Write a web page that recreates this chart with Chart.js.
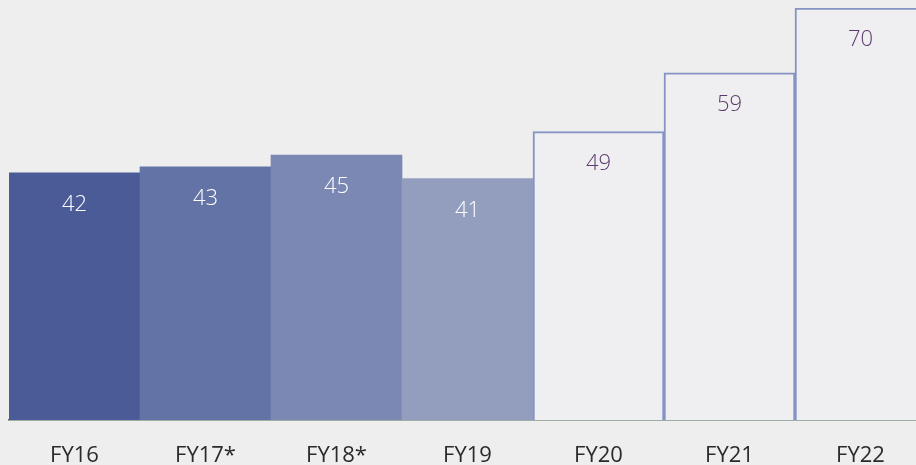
<!DOCTYPE html>
<html>
<head>
<meta charset="utf-8">
<script src="https://cdn.jsdelivr.net/npm/chart.js@4"></script>
<style>
html,body{margin:0;padding:0;background:#eeeeee;overflow:hidden;width:916px;height:465px;}
canvas{display:block;}
</style>
</head>
<body>
<canvas id="c" width="926" height="465"></canvas>
<script>
const categories = ["FY16","FY17*","FY18*","FY19","FY20","FY21","FY22"];
const values = [42,43,45,41,49,59,70];
const fillColors = ["#4b5b97","#6373a5","#7b88b3","#939ebf","#efeff1","#efeff1","#efeff1"];
const borderColors = ["#4b5b97","#6373a5","#7b88b3","#939ebf","#8593c3","#8593c3","#8593c3"];
const borderWidths = [0,0,0,0,2,2,2];
const labelColors = ["#ffffff","#ffffff","#ffffff","#ffffff","#5b3a6b","#5b3a6b","#5b3a6b"];
const FONT = "'Open Sans', 'DejaVu Sans', sans-serif";

const barLabels = {
  id:'barLabels',
  afterDatasetsDraw(chart){
    const ctx = chart.ctx;
    const meta = chart.getDatasetMeta(0);
    ctx.save();
    ctx.font = "300 22px " + FONT;
    ctx.textAlign = 'center';
    ctx.textBaseline = 'middle';
    meta.data.forEach((bar,i)=>{
      ctx.fillStyle = labelColors[i];
      ctx.fillText(String(values[i]), bar.x, bar.y + 32);
    });
    ctx.restore();
  }
};

new Chart(document.getElementById('c'), {
  type:'bar',
  data:{
    labels:categories,
    datasets:[{
      data:values,
      backgroundColor:fillColors,
      borderColor:borderColors,
      borderWidth:borderWidths,
      borderSkipped:'bottom',
      barPercentage:1,
      categoryPercentage:1
    }]
  },
  options:{
    responsive:false,
    animation:false,
    layout:{padding:{left:9,top:8,right:0,bottom:0}},
    plugins:{legend:{display:false},tooltip:{enabled:false}},
    scales:{
      y:{display:false,min:0,max:70},
      x:{
        grid:{display:false,drawTicks:false},
        border:{display:true,color:'#4f6b55',width:1.5},
        ticks:{color:'#2a2a2a',font:{family:FONT,size:22,weight:'400'},padding:23,maxRotation:0},
        afterFit(scale){scale.height = 45;}
      }
    }
  },
  plugins:[barLabels]
});
</script>
</body>
</html>
